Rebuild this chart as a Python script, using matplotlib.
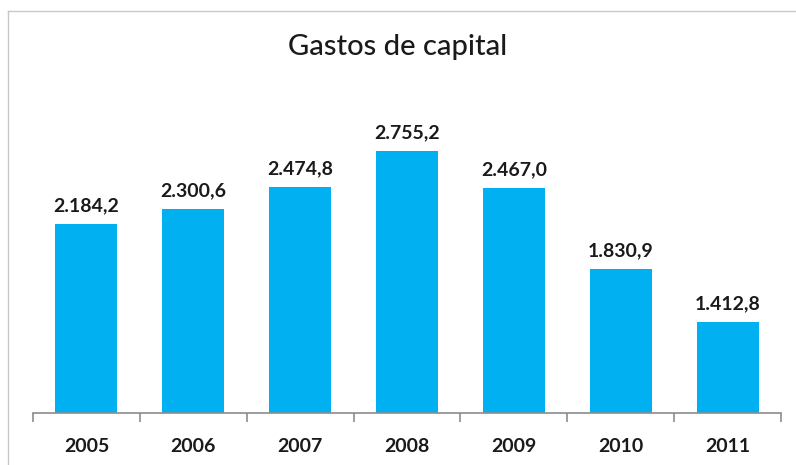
import numpy as np
import matplotlib.pyplot as plt
from matplotlib.lines import Line2D

years = ["2005", "2006", "2007", "2008", "2009", "2010", "2011"]
gastos = [2184.2, 2300.6, 2474.8, 2755.2, 2467.0, 1830.9, 1412.8]
labels = ["2.184,2", "2.300,6", "2.474,8", "2.755,2", "2.467,0", "1.830,9", "1.412,8"]

BAR_COLOR = "#00B0F0"
plt.rcParams["font.family"] = ["Lato", "DejaVu Sans"]

fig = plt.figure(figsize=(7.96, 4.65), dpi=100)
ax = fig.add_axes([33 / 796, 1 - 413 / 465, 748 / 796, 333 / 465])

x = np.arange(len(years))
ax.bar(x, gastos, width=0.58, color=BAR_COLOR, zorder=2)

for xi, v, lab in zip(x, gastos, labels):
    ax.annotate(lab, (xi, v), xytext=(0, 7), textcoords="offset points",
                ha="center", va="bottom", fontsize=14, fontweight="bold",
                color="#1a1a1a")

ax.set_xlim(-0.5, len(years) - 0.5)
ax.set_ylim(700, 3310)

# category labels centred, tick marks at the boundaries
ax.set_xticks(x)
ax.set_xticklabels(years, fontsize=14, fontweight="bold", color="#1a1a1a")
ax.tick_params(axis="x", which="major", length=0, pad=18)
ax.set_xticks(np.arange(-0.5, len(years)), minor=True)
ax.tick_params(axis="x", which="minor", length=6.5, width=1.2, color="#8c8c8c")
ax.set_yticks([])

for side in ("left", "right", "top"):
    ax.spines[side].set_visible(False)
ax.spines["bottom"].set_color("#8c8c8c")
ax.spines["bottom"].set_linewidth(1.2)

fig.text(0.5, 1 - 47 / 465, "Gastos de capital", ha="center", va="center",
         fontsize=21, fontweight="medium", color="#1a1a1a")

# chart frame (left + top edges visible in the crop)
fig.add_artist(Line2D([8 / 796, 8 / 796], [0, 1 - 11 / 465],
                      transform=fig.transFigure, color="#c8c8c8", lw=1))
fig.add_artist(Line2D([8 / 796, 1], [1 - 11 / 465, 1 - 11 / 465],
                      transform=fig.transFigure, color="#c8c8c8", lw=1))

fig.savefig("out.png", dpi=100)
